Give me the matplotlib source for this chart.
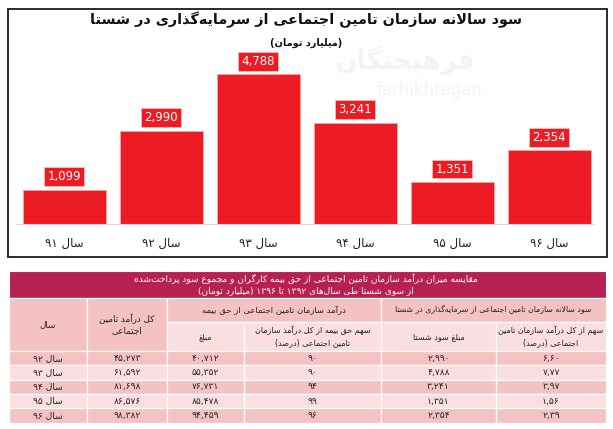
import re
import matplotlib
matplotlib.use("Agg")
import matplotlib.pyplot as plt
from matplotlib.patches import Rectangle

# ---- data ----
years = ["سال ۹۱", "سال ۹۲", "سال ۹۳", "سال ۹۴", "سال ۹۵", "سال ۹۶"]
profit = [1099, 2990, 4788, 3241, 1351, 2354]

table_years = ["سال ۹۲", "سال ۹۳", "سال ۹۴", "سال ۹۵", "سال ۹۶"]
total_income = [45273, 61592, 81698, 86576, 98382]
insurance_income = [40712, 55352, 76731, 85478, 94459]
insurance_share = [90, 90, 94, 99, 96]
shasta_profit = [2990, 4788, 3241, 1351, 2354]
shasta_share = [6.60, 7.77, 3.97, 1.56, 2.39]

title = "سود سالانه سازمان تامین اجتماعی از سرمایه‌گذاری در شستا"
subtitle = "(میلیارد تومان)"
table_title = ["مقایسه میزان درآمد سازمان تامین اجتماعی از حق بیمه کارگران و مجموع سود پرداخت‌شده",
               "از سوی شستا طی سال‌های ۱۳۹۲ تا ۱۳۹۶ (میلیارد تومان)"]


# ---- simple persian shaping (matplotlib has no text shaping) ----
FORMS = {}
cp = 0xFE80
for ch, n in [("ء", 1), ("آ", 2), ("أ", 2), ("ؤ", 2), ("إ", 2), ("ئ", 4), ("ا", 2),
              ("ب", 4), ("ة", 2), ("ت", 4), ("ث", 4), ("ج", 4), ("ح", 4), ("خ", 4),
              ("د", 2), ("ذ", 2), ("ر", 2), ("ز", 2), ("س", 4), ("ش", 4), ("ص", 4),
              ("ض", 4), ("ط", 4), ("ظ", 4), ("ع", 4), ("غ", 4), ("ف", 4), ("ق", 4),
              ("ك", 4), ("ل", 4), ("م", 4), ("ن", 4), ("ه", 4), ("و", 2), ("ى", 2), ("ي", 4)]:
    FORMS[ch] = tuple(range(cp, cp + n))
    cp += n
FORMS["پ"] = (0xFB56, 0xFB57, 0xFB58, 0xFB59)
FORMS["چ"] = (0xFB7A, 0xFB7B, 0xFB7C, 0xFB7D)
FORMS["ژ"] = (0xFB8A, 0xFB8B)
FORMS["ک"] = (0xFB8E, 0xFB8F, 0xFB90, 0xFB91)
FORMS["گ"] = (0xFB92, 0xFB93, 0xFB94, 0xFB95)
FORMS["ی"] = (0xFBFC, 0xFBFD, 0xFBFE, 0xFBFF)


def kind(c):
    return len(FORMS.get(c, ()))


def shape(text):
    out = []
    i = 0
    n = len(text)
    while i < n:
        c = text[i]
        f = FORMS.get(c)
        if f is None:
            if c != "\u200c":
                out.append(c)
            i += 1
            continue
        join_prev = i > 0 and kind(text[i - 1]) == 4 and len(f) >= 2
        if c == "ل" and i + 1 < n and text[i + 1] in "اآ":
            lig = (0xFEFB, 0xFEFC) if text[i + 1] == "ا" else (0xFEF5, 0xFEF6)
            out.append(chr(lig[1] if join_prev else lig[0]))
            i += 2
            continue
        join_next = len(f) == 4 and i + 1 < n and kind(text[i + 1]) >= 2
        if join_prev and join_next:
            g = f[3]
        elif join_prev:
            g = f[1]
        elif join_next:
            g = f[2]
        else:
            g = f[0]
        out.append(chr(g))
        i += 1
    return "".join(out)


def fa(text):
    s = shape(text)[::-1]
    s = re.sub(r"[0-9۰-۹][0-9۰-۹,.]*[0-9۰-۹]|[0-9۰-۹]", lambda m: m.group(0)[::-1], s)
    return s.translate(str.maketrans("()", ")("))


def fnum(v, fmt="{:,}"):
    return fmt.format(v).replace(".", ",").translate(str.maketrans("0123456789", "۰۱۲۳۴۵۶۷۸۹"))


W, H = 613, 429
plt.rcParams['font.family'] = ['DejaVu Sans']
fig = plt.figure(figsize=(W / 100, H / 100), dpi=100)

# overlay in pixel coords for frame + table
bg = fig.add_axes([0, 0, 1, 1])
bg.set_xlim(0, W)
bg.set_ylim(H, 0)
bg.axis("off")

bg.add_patch(Rectangle((7.5, 8.5), 599, 248.5, fill=False, ec="#1a1a1a", lw=1.3))
bg.text(306, 20, fa(title), ha="center", va="center", fontsize=10.4, fontweight="bold", color="#111111")
bg.text(306, 43, fa(subtitle), ha="center", va="center", fontsize=7, fontweight="bold", color="#111111")

# ---- bar chart ----
ax = fig.add_axes([15.7 / W, 1 - 224 / H, 582 / W, 174 / H])
ax.patch.set_visible(False)
x = range(len(profit))
ax.bar(x, profit, width=0.855, color="#ED1C24", edgecolor="#F7A59F", lw=0.7, zorder=2)
for i, v in enumerate(profit):
    ax.annotate(f"{v:,}", (i, v), xytext=(0, 4.5), textcoords="offset points",
                ha="center", va="bottom", color="white", fontsize=8.5, zorder=4,
                bbox=dict(boxstyle="square,pad=0.25", fc="#ED1C24", ec="#F7B8B3", lw=0.7))
ax.set_xlim(-0.5, 5.5)
ax.set_ylim(0, 5565)
ax.set_yticks([])
ax.set_xticks(list(x))
ax.set_xticklabels([fa(y) for y in years], fontsize=8.5, color="#222222")
ax.tick_params(axis="x", length=0, pad=9)
for s in ["top", "left", "right"]:
    ax.spines[s].set_visible(False)
ax.spines["bottom"].set_color("#d9d9d9")
ax.spines["bottom"].set_bounds(-0.5, 5.46)

# faint watermark
bg.text(405, 60, fa("فرهیختگان"), ha="center", va="center", fontsize=19, fontweight="bold",
        color="#d8d8d8", alpha=0.3, zorder=5)
bg.text(430, 90, "farhikhtegan", ha="center", va="center", fontsize=12, color="#d8d8d8",
        alpha=0.3, zorder=5)

# ---- table ----
cols = [9, 87, 167, 244, 381, 496, 606]
dark, light, crimson = "#F5C2C4", "#FADEE0", "#B72152"
bg.add_patch(Rectangle((cols[0], 271), cols[-1] - cols[0], 27, fc=crimson, ec="white", lw=0.8))
bg.text(306, 278.5, fa(table_title[0]), ha="center", va="center", fontsize=6.5, color="white")
bg.text(306, 291, fa(table_title[1]), ha="center", va="center", fontsize=6.5, color="white")


def cell(x0, x1, y0, y1, fc, lines, size=5.8):
    bg.add_patch(Rectangle((x0, y0), x1 - x0, y1 - y0, fc=fc, ec="white", lw=0.9))
    cy = (y0 + y1) / 2
    step = 11.5
    for k, t in enumerate(lines):
        bg.text((x0 + x1) / 2, cy + (k - (len(lines) - 1) / 2) * step, t, ha="center",
                va="center", fontsize=size, color="#222222")


cell(cols[0], cols[1], 298, 351, dark, [fa("سال")], size=6.3)
cell(cols[1], cols[2], 298, 351, dark, [fa("کل درآمد تامین"), fa("اجتماعی")], size=6.3)
cell(cols[2], cols[4], 298, 322, dark, [fa("درآمد سازمان تامین اجتماعی از حق بیمه")], size=6.1)
cell(cols[4], cols[6], 298, 322, dark, [fa("سود سالانه سازمان تامین اجتماعی از سرمایه‌گذاری در شستا")], size=5.6)
cell(cols[2], cols[3], 322, 351, light, [fa("مبلغ")])
cell(cols[3], cols[4], 322, 351, light, [fa("سهم حق بیمه از کل درآمد سازمان"), fa("تامین اجتماعی (درصد)")])
cell(cols[4], cols[5], 322, 351, light, [fa("مبلغ سود شستا")])
cell(cols[5], cols[6], 322, 351, light, [fa("سهم از کل درآمد سازمان تامین"), fa("اجتماعی (درصد)")])

rh = 14.3
for r in range(len(table_years)):
    y0 = 351 + r * rh
    fc = dark if r % 2 == 0 else light
    vals = [fa(table_years[r]), fnum(total_income[r]), fnum(insurance_income[r]),
            fnum(insurance_share[r]), fnum(shasta_profit[r]), fnum(shasta_share[r], "{:.2f}")]
    for c in range(6):
        cell(cols[c], cols[c + 1], y0, y0 + rh, fc, [vals[c]], size=6.6)

fig.savefig("out.png", dpi=100)
